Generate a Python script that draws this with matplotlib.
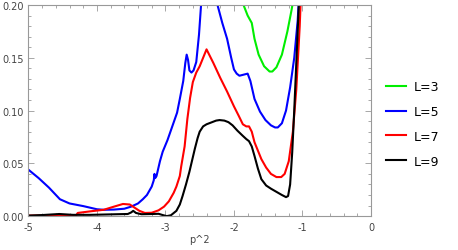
import matplotlib
matplotlib.use('Agg')
import matplotlib.pyplot as plt
from matplotlib.ticker import MultipleLocator, FormatStrFormatter

# L=3
x3 = [-1.90, -1.86, -1.80, -1.74, -1.70, -1.64, -1.56, -1.48, -1.44, -1.38, -1.30, -1.22, -1.16, -1.12, -1.08]
y3 = [0.24, 0.20, 0.19, 0.183, 0.168, 0.153, 0.142, 0.137, 0.137, 0.141, 0.153, 0.175, 0.195, 0.21, 0.24]

# L=5
x5 = [-5.0, -4.85, -4.7, -4.54, -4.4, -4.2, -4.0, -3.9, -3.75, -3.6, -3.5, -3.4, -3.33, -3.27, -3.2,
      -3.17, -3.16, -3.15, -3.13, -3.08, -3.04, -2.97, -2.9, -2.83, -2.79, -2.74, -2.71, -2.69, -2.67,
      -2.65, -2.62, -2.59, -2.55, -2.51, -2.48, -2.44, -2.28, -2.24, -2.17, -2.10, -2.04, -2.0, -1.96,
      -1.92, -1.86, -1.80, -1.76, -1.70, -1.62, -1.54, -1.46, -1.40, -1.36, -1.30, -1.24, -1.18, -1.12,
      -1.07, -1.04]
y5 = [0.044, 0.036, 0.027, 0.016, 0.012, 0.0095, 0.0065, 0.006, 0.0062, 0.007, 0.009, 0.012, 0.016, 0.020, 0.028,
      0.034, 0.040, 0.036, 0.038, 0.052, 0.061, 0.072, 0.085, 0.098, 0.111, 0.128, 0.145, 0.153, 0.148,
      0.138, 0.136, 0.138, 0.146, 0.172, 0.20, 0.25, 0.25, 0.20, 0.183, 0.168, 0.150, 0.139, 0.135,
      0.133, 0.134, 0.135, 0.128, 0.111, 0.099, 0.091, 0.086, 0.084, 0.084, 0.088, 0.100, 0.122, 0.150,
      0.185, 0.22]

# L=7
x7 = [-5.0, -4.6, -4.3, -4.28, -4.1, -3.9, -3.75, -3.62, -3.52, -3.45, -3.38, -3.3, -3.2, -3.1, -3.02,
      -2.95, -2.88, -2.84, -2.79, -2.77, -2.72, -2.68, -2.64, -2.6, -2.55, -2.5, -2.45, -2.4, -2.3,
      -2.2, -2.1, -2.0, -1.93, -1.87, -1.82, -1.78, -1.74, -1.70, -1.65, -1.6, -1.53, -1.46, -1.38,
      -1.31, -1.26, -1.2, -1.14, -1.09, -1.04, -1.01]
y7 = [0.0005, 0.0008, 0.001, 0.003, 0.0045, 0.006, 0.009, 0.0115, 0.011, 0.008, 0.005, 0.003, 0.0032, 0.0055, 0.009,
      0.014, 0.022, 0.028, 0.038, 0.047, 0.066, 0.092, 0.112, 0.127, 0.136, 0.142, 0.150, 0.158, 0.145,
      0.131, 0.118, 0.104, 0.095, 0.087, 0.085, 0.085, 0.080, 0.070, 0.062, 0.054, 0.046, 0.040, 0.037,
      0.037, 0.040, 0.052, 0.080, 0.120, 0.180, 0.23]

# L=9
x9 = [-5.0, -4.8, -4.55, -4.35, -4.1, -3.9, -3.7, -3.55, -3.5, -3.47, -3.43, -3.35, -3.2, -3.1, -3.04,
      -2.98, -2.92, -2.84, -2.79, -2.75, -2.70, -2.65, -2.61, -2.57, -2.53, -2.5, -2.45, -2.4, -2.32,
      -2.26, -2.21, -2.14, -2.08, -2.02, -1.95, -1.87, -1.82, -1.78, -1.74, -1.70, -1.65, -1.6, -1.53,
      -1.46, -1.38, -1.30, -1.24, -1.21, -1.18, -1.15, -1.12, -1.09, -1.06, -1.03]
y9 = [0.0005, 0.001, 0.002, 0.0012, 0.0012, 0.0015, 0.0018, 0.002, 0.0035, 0.005, 0.003, 0.0018, 0.002, 0.0022, 0.001,
      0.0, 0.0008, 0.005, 0.011, 0.019, 0.030, 0.042, 0.053, 0.064, 0.074, 0.080, 0.085, 0.087, 0.089,
      0.0905, 0.091, 0.0905, 0.089, 0.086, 0.081, 0.076, 0.073, 0.071, 0.066, 0.057, 0.045, 0.035, 0.029,
      0.026, 0.023, 0.020, 0.018, 0.019, 0.030, 0.060, 0.100, 0.145, 0.190, 0.23]

labels = ['L=3', 'L=5', 'L=7', 'L=9']
colors = ['#00ee00', '#0000ff', '#ff0000', '#000000']

plt.rcParams['font.family'] = 'DejaVu Sans'
fig = plt.figure(figsize=(4.58, 2.51), dpi=100)
ax = fig.add_axes([0.062, 0.135, 0.748, 0.841])

for xs, ys, lab, c in zip([x3, x5, x7, x9], [y3, y5, y7, y9], labels, colors):
    ax.plot(xs, ys, color=c, lw=1.5, label=lab, solid_joinstyle='round')

ax.set_xlim(-5, 0)
ax.set_ylim(0, 0.2)
ax.xaxis.set_major_locator(MultipleLocator(1))
ax.xaxis.set_minor_locator(MultipleLocator(0.2))
ax.yaxis.set_major_locator(MultipleLocator(0.05))
ax.yaxis.set_minor_locator(MultipleLocator(0.01))
ax.yaxis.set_major_formatter(FormatStrFormatter('%.2f'))
ax.xaxis.set_major_formatter(FormatStrFormatter('%d'))

for s in ax.spines.values():
    s.set_color('#999999')
    s.set_linewidth(0.8)
ax.tick_params(which='both', direction='in', top=True, right=True, color='#999999',
               labelsize=7, labelcolor='#444444', width=0.6, pad=3)
ax.tick_params(which='major', length=4)
ax.tick_params(which='minor', length=2)
ax.tick_params(axis='x', pad=4)
ax.tick_params(labelright=False, labeltop=False)

ax.set_xlabel('p^2', fontsize=7, color='#444444', labelpad=2)

leg = fig.legend(loc='upper left', bbox_to_anchor=(0.818, 0.722), frameon=False,
                 fontsize=9, handlelength=1.6, handletextpad=0.6, labelspacing=0.95)

fig.savefig('out.png', dpi=100)
